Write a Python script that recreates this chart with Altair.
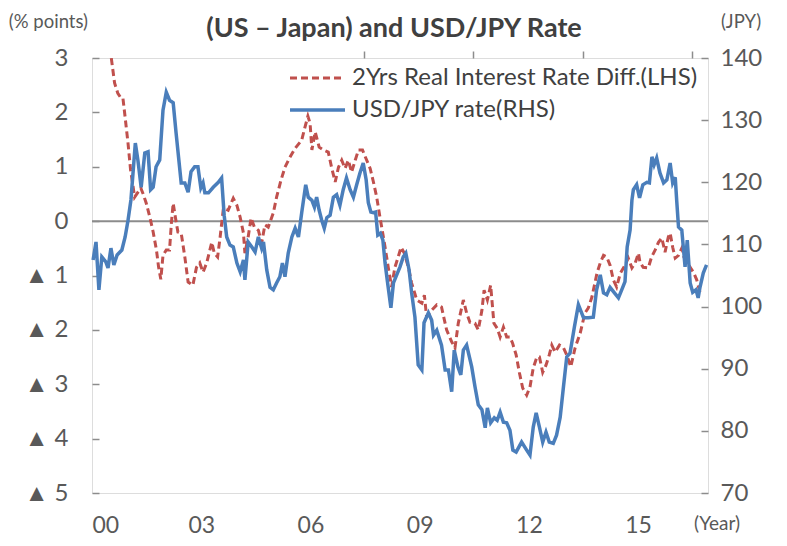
import altair as alt
import pandas as pd

# ---------------- data ----------------
red_year = [2000.47, 2000.53, 2000.62, 2000.71, 2000.80, 2000.85, 2000.91, 2000.99, 2001.06, 2001.13, 2001.17,
            2001.26, 2001.34, 2001.40, 2001.49, 2001.59, 2001.68, 2001.77, 2001.83, 2001.89, 2001.95,
            2002.04, 2002.13, 2002.18, 2002.23, 2002.29, 2002.36, 2002.45, 2002.55, 2002.64, 2002.77,
            2002.87, 2002.96, 2003.05, 2003.15, 2003.29, 2003.36, 2003.45, 2003.52, 2003.61, 2003.74,
            2003.88, 2003.98, 2004.07, 2004.16, 2004.20, 2004.29, 2004.37, 2004.46, 2004.57, 2004.66,
            2004.75, 2004.84, 2004.98, 2005.07, 2005.19, 2005.30, 2005.44, 2005.58, 2005.76, 2005.85,
            2005.93, 2005.99, 2006.04, 2006.13, 2006.24, 2006.35, 2006.49, 2006.58, 2006.68, 2006.77,
            2006.86, 2006.95, 2007.04, 2007.13, 2007.23, 2007.32, 2007.43, 2007.52, 2007.64, 2007.73,
            2007.82, 2007.91, 2007.98, 2008.05, 2008.14, 2008.23, 2008.32, 2008.41, 2008.49, 2008.58,
            2008.69, 2008.78, 2008.92, 2009.06, 2009.13, 2009.19, 2009.33, 2009.47, 2009.60, 2009.74,
            2009.88, 2009.97, 2010.06, 2010.20, 2010.29, 2010.38, 2010.52, 2010.61, 2010.71, 2010.77,
            2010.86, 2010.95, 2011.04, 2011.13, 2011.21, 2011.30, 2011.39, 2011.48, 2011.55, 2011.65,
            2011.74, 2011.83, 2011.94, 2012.03, 2012.12, 2012.22, 2012.29, 2012.38, 2012.47, 2012.56,
            2012.63, 2012.72, 2012.84, 2012.95, 2013.04, 2013.15, 2013.27, 2013.41, 2013.54, 2013.63,
            2013.73, 2013.87, 2013.96, 2014.05, 2014.14, 2014.23, 2014.32, 2014.41, 2014.51, 2014.64,
            2014.73, 2014.83, 2014.92, 2015.01, 2015.05, 2015.14, 2015.28, 2015.37, 2015.47, 2015.56,
            2015.65, 2015.74, 2015.83, 2015.88, 2015.95, 2016.02, 2016.11, 2016.20, 2016.26, 2016.35,
            2016.43, 2016.52, 2016.61, 2016.70]
red_diff = [3.40, 3.00, 2.54, 2.35, 2.26, 2.26, 1.91, 1.43, 0.94, 0.63, 0.44,
            0.53, 0.61, 0.51, 0.33, 0.07, -0.20, -0.53, -0.85, -1.07, -0.63,
            -0.53, -0.53, -0.04, 0.33, 0.07, -0.20, -0.22, -0.66, -1.12, -1.18,
            -0.85, -0.77, -0.94, -0.77, -0.39, -0.59, -0.66, -0.29, 0.24, 0.20,
            0.42, 0.29, 0.07, -0.22, -0.59, -0.29, 0.06, -0.11, -0.17, -0.40,
            -0.07, -0.11, 0.15, 0.44, 0.75, 0.99, 1.18, 1.34, 1.49, 1.73,
            1.93, 1.80, 1.31, 1.64, 1.36, 1.31, 1.27, 0.99, 0.72, 0.99,
            1.12, 0.97, 1.12, 0.90, 1.12, 1.31, 1.31, 1.16, 0.97, 0.72,
            0.44, 0.07, -0.20, -0.48, -0.86, -1.21, -0.85, -0.66, -0.48, -0.59,
            -0.85, -1.14, -1.45, -1.51, -1.36, -1.76, -1.64, -1.54, -1.58, -2.00,
            -2.22, -2.33, -1.88, -1.45, -1.69, -1.86, -1.88, -2.00, -1.64, -1.27,
            -1.45, -1.18, -1.88, -1.97, -2.13, -1.95, -2.13, -2.13, -2.24, -2.46,
            -2.79, -3.07, -3.20, -3.05, -2.70, -2.50, -2.50, -2.78, -2.65, -2.46,
            -2.28, -2.41, -2.28, -2.33, -2.46, -2.68, -2.33, -2.06, -1.69, -1.60,
            -1.40, -0.96, -0.77, -0.63, -0.66, -0.81, -1.08, -1.21, -0.96, -0.81,
            -0.68, -0.86, -0.77, -0.59, -0.75, -0.85, -0.86, -0.66, -0.53, -0.39,
            -0.31, -0.57, -0.29, -0.22, -0.48, -0.68, -0.63, -0.50, -0.66, -0.75,
            -0.85, -0.94, -1.08, -1.31]

blue_year = [2000.03, 2000.11, 2000.19, 2000.27, 2000.38, 2000.44, 2000.52, 2000.60, 2000.69, 2000.82,
             2000.91, 2000.99, 2001.07, 2001.19, 2001.26, 2001.35, 2001.45, 2001.54, 2001.61, 2001.68,
             2001.76, 2001.86, 2001.95, 2002.04, 2002.13, 2002.23, 2002.31, 2002.45, 2002.55, 2002.64,
             2002.72, 2002.82, 2002.91, 2002.99, 2003.05, 2003.10, 2003.20, 2003.33, 2003.47, 2003.56,
             2003.63, 2003.70, 2003.79, 2003.88, 2003.98, 2004.07, 2004.16, 2004.20, 2004.29, 2004.39,
             2004.48, 2004.57, 2004.66, 2004.71, 2004.80, 2004.89, 2004.98, 2005.07, 2005.16, 2005.23,
             2005.30, 2005.39, 2005.49, 2005.58, 2005.67, 2005.76, 2005.87, 2005.94, 2006.04, 2006.11,
             2006.17, 2006.24, 2006.31, 2006.38, 2006.45, 2006.54, 2006.63, 2006.72, 2006.81, 2006.90,
             2006.99, 2007.09, 2007.18, 2007.27, 2007.36, 2007.45, 2007.53, 2007.59, 2007.66, 2007.73,
             2007.79, 2007.85, 2007.92, 2007.99, 2008.05, 2008.12, 2008.21, 2008.28, 2008.37, 2008.46,
             2008.55, 2008.62, 2008.71, 2008.78, 2008.87, 2008.96, 2009.06, 2009.12, 2009.24, 2009.33,
             2009.38, 2009.47, 2009.60, 2009.70, 2009.79, 2009.88, 2009.95, 2010.05, 2010.13, 2010.20,
             2010.29, 2010.43, 2010.52, 2010.61, 2010.71, 2010.80, 2010.86, 2010.95, 2011.05, 2011.13,
             2011.21, 2011.30, 2011.39, 2011.48, 2011.56, 2011.65, 2011.80, 2011.94, 2012.03, 2012.12,
             2012.20, 2012.29, 2012.38, 2012.47, 2012.56, 2012.67, 2012.76, 2012.86, 2012.95, 2013.04,
             2013.13, 2013.25, 2013.36, 2013.50, 2013.63, 2013.77, 2013.86, 2013.96, 2014.05, 2014.14,
             2014.23, 2014.35, 2014.46, 2014.55, 2014.64, 2014.70, 2014.78, 2014.83, 2014.87, 2014.96,
             2015.04, 2015.13, 2015.24, 2015.31, 2015.38, 2015.44, 2015.51, 2015.60, 2015.70, 2015.79,
             2015.88, 2015.95, 2016.02, 2016.06, 2016.11, 2016.20, 2016.29, 2016.35, 2016.43, 2016.50,
             2016.59, 2016.65, 2016.70, 2016.79, 2016.88]
blue_jpy = [107.5, 110.4, 102.7, 108.0, 107.2, 106.2, 109.4, 106.7, 108.3, 109.1,
            111.2, 113.9, 117.2, 126.3, 123.6, 119.2, 124.7, 124.9, 118.8, 119.2,
            122.5, 123.6, 131.6, 134.5, 133.2, 132.8, 127.9, 119.9, 119.9, 118.4,
            121.7, 122.5, 122.5, 119.1, 119.9, 118.3, 118.3, 119.2, 120.0, 120.7,
            114.7, 111.2, 109.9, 109.6, 107.0, 105.6, 107.5, 104.3, 110.4, 109.6,
            108.8, 111.2, 109.4, 110.4, 105.9, 103.1, 102.7, 103.8, 104.8, 107.0,
            104.8, 108.6, 111.2, 112.6, 111.2, 115.1, 119.6, 117.6, 117.1, 116.0,
            117.6, 115.5, 113.9, 112.6, 114.3, 114.7, 117.6, 118.0, 116.3, 118.8,
            120.7, 118.8, 117.6, 119.6, 121.5, 123.1, 120.4, 116.7, 115.2, 115.1,
            115.2, 111.5, 111.8, 110.7, 107.0, 103.8, 99.8, 103.8, 105.1, 106.4,
            108.0, 108.6, 105.9, 102.2, 98.3, 90.6, 89.8, 97.4, 99.0, 97.8,
            95.4, 96.2, 93.8, 89.8, 89.8, 86.3, 93.0, 90.3, 89.0, 93.0,
            93.8, 90.3, 87.1, 84.2, 83.4, 80.5, 83.7, 81.3, 82.1, 81.7,
            83.0, 81.4, 81.3, 80.1, 76.9, 76.6, 78.2, 76.9, 76.1, 80.6,
            82.9, 80.6, 78.2, 79.8, 78.2, 78.0, 79.3, 82.2, 87.1, 91.9,
            92.5, 96.7, 100.3, 98.2, 98.2, 98.3, 102.7, 105.1, 102.2, 101.9,
            103.1, 102.2, 101.4, 102.7, 104.0, 109.6, 112.3, 117.1, 118.8, 119.6,
            117.5, 119.6, 120.0, 119.9, 124.1, 122.8, 123.9, 121.5, 119.9, 120.4,
            123.1, 119.9, 120.8, 117.1, 112.8, 112.3, 106.4, 110.7, 103.8, 102.3,
            102.7, 101.4, 103.1, 105.4, 106.7]

left_ticks = [3, 2, 1, 0, -1, -2, -3, -4, -5]
right_ticks = [140, 130, 120, 110, 100, 90, 80, 70]
year_ticks = [2000, 2003, 2006, 2009, 2012, 2015]
zero_ticks = [2003, 2006, 2009, 2012, 2015]

title_text = "(US \u2013 Japan) and USD/JPY Rate"
red_label = "2Yrs Real Interest Rate Diff.(LHS)"
blue_label = "USD/JPY rate(RHS)"

# ---------------- styling ----------------
FONT = "Lato, sans-serif"
RED = "#C0504D"
BLUE = "#4A7EBB"
GRID = "#8c8c8c"
TXT = "#595959"
FS = 24

df_red = pd.DataFrame({"year": red_year, "diff": red_diff})
df_blue = pd.DataFrame({"year": blue_year, "jpy": blue_jpy})

xscale = alt.Scale(domain=[2000, 2016.92], nice=False, zero=False)
lscale = alt.Scale(domain=[-5, 3], nice=False)
rscale = alt.Scale(domain=[70, 140], nice=False, zero=False)

red_line = alt.Chart(df_red).mark_line(
    color=RED, strokeWidth=3, strokeDash=[7, 4], clip=True
).encode(
    x=alt.X("year:Q", scale=xscale, axis=alt.Axis(
        values=year_ticks, labelExpr="slice(format(datum.value, 'd'), 2)",
        ticks=False, tickSize=0, domain=False, grid=False, title=None,
        labelPadding=21, labelFont=FONT, labelFontSize=23, labelColor=TXT)),
    y=alt.Y("diff:Q", scale=lscale, axis=alt.Axis(
        orient="left", values=left_ticks, offset=-7, domain=False, grid=False,
        tickSize=7, tickColor=GRID, tickWidth=1.5, labelPadding=24, title=None,
        labelExpr="datum.value < 0 ? '\u25b2  ' + (-datum.value) : '' + datum.value",
        labelFont=FONT, labelFontSize=FS, labelColor=TXT)),
)

zero_rule = alt.Chart(pd.DataFrame({"z": [0]})).mark_rule(
    color=GRID, strokeWidth=2
).encode(y=alt.Y("z:Q", scale=lscale, axis=None))

blue_line = alt.Chart(df_blue).mark_line(
    color=BLUE, strokeWidth=3.5
).encode(
    x=alt.X("year:Q", scale=xscale, axis=alt.Axis(
        values=zero_ticks, labels=False, domain=False, grid=False, title=None,
        position=163, tickSize=7, tickColor=GRID, tickWidth=1.5)),
    y=alt.Y("jpy:Q", scale=rscale, axis=alt.Axis(
        orient="right", values=right_ticks, offset=-7, domain=False, grid=False,
        tickSize=7, tickColor=GRID, tickWidth=1.5, labelPadding=12, title=None,
        labelFont=FONT, labelFontSize=FS, labelColor=TXT)),
)

one = pd.DataFrame({"a": [0]})

def text_at(txt, x, y, align="center", size=FS, bold=False, color=TXT):
    return alt.Chart(one).mark_text(
        text=txt, align=align, baseline="middle", font=FONT, fontSize=size,
        fontWeight="bold" if bold else "normal", color=color
    ).encode(x=alt.value(x), y=alt.value(y))

leg_red = alt.Chart(one).mark_rule(color=RED, strokeWidth=3, strokeDash=[7, 4]).encode(
    x=alt.value(198), x2=alt.value(253), y=alt.value(20))
leg_blue = alt.Chart(one).mark_rule(color=BLUE, strokeWidth=3.5).encode(
    x=alt.value(198), x2=alt.value(253), y=alt.value(52))

chart = alt.layer(
    zero_rule, red_line, blue_line,
    leg_red, leg_blue,
    text_at(red_label, 260, 20, align="left", color="#404040"),
    text_at(blue_label, 260, 52, align="left", color="#404040"),
    text_at(title_text, 302, -29, size=27, bold=True, color="#404040"),
    text_at("(% points)", -4, -36, align="right", size=18.5),
    text_at("(JPY)", 649, -36, size=18.5),
    text_at("(Year)", 625, 466, size=19),
).resolve_scale(y="independent").resolve_axis(x="independent").properties(
    width=616, height=435, autosize="none",
    padding={"left": 84, "top": 50, "right": 71, "bottom": 45},
).configure_view(stroke=GRID, strokeWidth=1.5).configure(background="white")

chart.save("out.html", embed_options={"renderer": "svg", "actions": False})
